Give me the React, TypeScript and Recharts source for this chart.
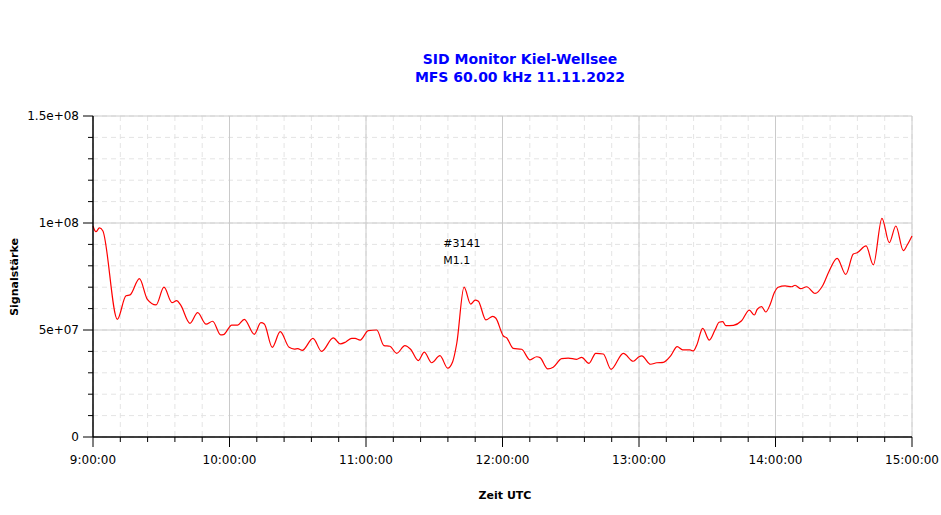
import { LineChart, Line, XAxis, YAxis, CartesianGrid, ReferenceDot } from 'recharts';

// minutes after 9:00 UTC
const times = [
  0, 1.3, 2.8, 4.3, 10.7, 14.5, 16.3, 20.4, 23.9, 27.7, 31.2, 34.7, 36.8, 38.5, 42.6, 46.0, 49.7,
  52.6, 56.1, 57.3, 61.0, 63.6, 66.5, 70.9, 73.8, 75.3, 78.8, 82.3, 86.2, 88.5, 90.0, 92.0, 96.7,
  100.5, 105.6, 108.7, 111.1, 113.7, 115.2, 117.4, 121.0, 124.7, 127.9, 130.5, 133.5, 137.1, 139.6,
  143.0, 145.6, 148.9, 152.5, 155.9, 158.1, 159.9, 163.1, 166.0, 168.0, 169.4, 172.7, 175.7, 177.1,
  180.4, 181.8, 184.7, 188.4, 192.1, 195.0, 196.5, 199.9, 202.3, 206.0, 208.9, 212.6, 214.8, 218.0,
  221.0, 224.3, 227.7, 233.1, 237.5, 240.0, 241.2, 245.1, 247.8, 250.7, 253.9, 256.8, 259.2, 262.4,
  263.9, 265.4, 268.0, 270.9, 273.4, 275.2, 276.8, 278.2, 281.5, 285.1, 288.5, 290.7, 292.0, 293.9,
  295.7, 297.6, 299.5, 301.2, 304.2, 307.1, 308.6, 311.1, 313.7, 317.4, 320.7, 323.6, 327.1, 330.9,
  334.2, 335.9, 339.8, 343.0, 346.8, 350.0, 352.9, 356.2, 357.9, 360,
];

// signal strength in millions
const signal = [
  98.6, 95.9, 97.7, 96.4, 55.0, 66.0, 66.4, 74.0, 64.3, 61.7, 70.0, 62.8, 63.7, 61.7, 53.1, 58.1, 52.7,
  54.1, 47.7, 47.8, 52.3, 52.3, 55.0, 48.0, 53.4, 52.8, 41.9, 49.2, 41.9, 41.1, 41.3, 40.5, 46.1,
  40.0, 46.3, 43.5, 44.4, 46.1, 46.1, 45.3, 49.7, 50.0, 42.7, 42.4, 39.1, 42.7, 41.0,
  35.7, 39.7, 34.7, 38.0, 32.2, 35.2, 43.8, 70.0, 62.1, 64.0, 63.4, 54.7, 56.4, 55.5,
  47.2, 46.4, 41.4, 41.0, 36.0, 37.5, 37.1, 31.8, 32.6, 36.6, 36.9, 36.3, 37.2, 34.4,
  39.1, 38.8, 31.6, 39.1, 35.4, 37.5, 37.9, 34.0, 34.7, 34.9, 37.9, 42.2, 40.7, 40.7,
  40.2, 43.0, 50.8, 45.3, 50.0, 53.6, 53.9, 52.0, 52.2, 54.3, 59.3, 57.0, 59.7, 60.9,
  58.4, 61.8, 67.5, 70.0, 70.6, 70.2, 70.9, 69.3, 70.2, 67.1, 70.7, 77.6, 83.5, 76.0,
  85.5, 86.1, 89.3, 80.4, 102.2, 90.8, 98.6, 87.1, 89.7, 93.9,
];

const hourTicks = [0, 60, 120, 180, 240, 300, 360];
const hourLabels = ['9:00:00', '10:00:00', '11:00:00', '12:00:00', '13:00:00', '14:00:00', '15:00:00'];
const minuteTicks = Array.from({ length: 31 }, (_, i) => i * 12);

const yMajorTicks = [0, 5e7, 1e8, 1.5e8];
const yMajorLabels = ['0', '5e+07', '1e+08', '1.5e+08'];
const yMinorTicks = Array.from({ length: 16 }, (_, i) => i * 1e7);

const flareTime = 154;
const flareValue = 8.88e7;
const flareLines = ['#3141', 'M1.1'];

const data = times.map((t, i) => ({ t, signal: signal[i] * 1e6 }));

const FONT = '"DejaVu Sans", Verdana, sans-serif';

function YTick(props: any) {
  const { x, y, payload } = props;
  const idx = yMajorTicks.indexOf(payload.value);
  return (
    <g>
      <line x1={x - (idx >= 0 ? 10 : 5)} x2={x} y1={y} y2={y} stroke="#000" strokeWidth={1} />
      {idx >= 0 && (
        <text x={x - 14} y={y} dy={4} textAnchor="end" fontSize={12} fontFamily={FONT} fill="#000">
          {yMajorLabels[idx]}
        </text>
      )}
    </g>
  );
}

function XTick(props: any) {
  const { x, y, payload } = props;
  const idx = hourTicks.indexOf(payload.value);
  return (
    <g>
      <line x1={x} x2={x} y1={y} y2={y + (idx >= 0 ? 10 : 5)} stroke="#000" strokeWidth={1} />
      {idx >= 0 && (
        <text x={x} y={y + 27} textAnchor="middle" fontSize={12} fontFamily={FONT} fill="#000">
          {hourLabels[idx]}
        </text>
      )}
    </g>
  );
}

function FlareLabel(props: any) {
  const { cx, cy } = props;
  return (
    <g>
      {flareLines.map((s, i) => (
        <text key={s} x={cx} y={cy + i * 17} fontSize={11} fontFamily={FONT} fill="#000">
          {s}
        </text>
      ))}
    </g>
  );
}

export default function App() {
  return (
    <div
      style={{
        position: 'absolute',
        left: 0,
        top: 0,
        width: 941,
        height: 515,
        background: '#fff',
        fontFamily: FONT,
      }}
    >
      <div
        style={{
          position: 'absolute',
          left: 320,
          width: 400,
          top: 50,
          textAlign: 'center',
          color: '#0000ff',
          fontWeight: 'bold',
          fontSize: 14,
          lineHeight: '18px',
        }}
      >
        <div>SID Monitor Kiel-Wellsee</div>
        <div>MFS 60.00 kHz 11.11.2022</div>
      </div>
      <div
        style={{
          position: 'absolute',
          left: 14,
          top: 277,
          transform: 'translate(-50%, -50%) rotate(-90deg)',
          fontWeight: 'bold',
          fontSize: 11,
          whiteSpace: 'nowrap',
        }}
      >
        Signalstärke
      </div>
      <div
        style={{
          position: 'absolute',
          left: 505,
          top: 495,
          transform: 'translate(-50%, -50%)',
          fontWeight: 'bold',
          fontSize: 11,
          whiteSpace: 'nowrap',
        }}
      >
        Zeit UTC
      </div>
      <div style={{ position: 'absolute', left: 0, top: 0 }}>
        <LineChart width={941} height={515} data={data} margin={{ top: 116, right: 29, bottom: 48, left: 0 }}>
          <CartesianGrid
            stroke="#e4e4e4"
            strokeDasharray="5 4"
            horizontalValues={yMinorTicks}
            verticalValues={minuteTicks}
          />
          <CartesianGrid
            stroke="#cacaca"
            horizontalValues={yMajorTicks.slice(1)}
            verticalValues={hourTicks.slice(1)}
          />
          <XAxis
            dataKey="t"
            type="number"
            domain={[0, 360]}
            ticks={minuteTicks}
            interval={0}
            height={30}
            tickSize={0}
            tickMargin={0}
            tickLine={false}
            tick={<XTick />}
            axisLine={{ stroke: '#000', strokeWidth: 1.5 }}
          />
          <YAxis
            type="number"
            domain={[0, 1.5e8]}
            ticks={yMinorTicks}
            interval={0}
            width={93}
            tickSize={0}
            tickMargin={0}
            tickLine={false}
            tick={<YTick />}
            axisLine={{ stroke: '#000', strokeWidth: 1.5 }}
          />
          <Line
            type="monotone"
            dataKey="signal"
            stroke="#ff0000"
            strokeWidth={1.2}
            dot={false}
            isAnimationActive={false}
          />
          <ReferenceDot x={flareTime} y={flareValue} r={0} shape={<FlareLabel />} />
        </LineChart>
      </div>
    </div>
  );
}
